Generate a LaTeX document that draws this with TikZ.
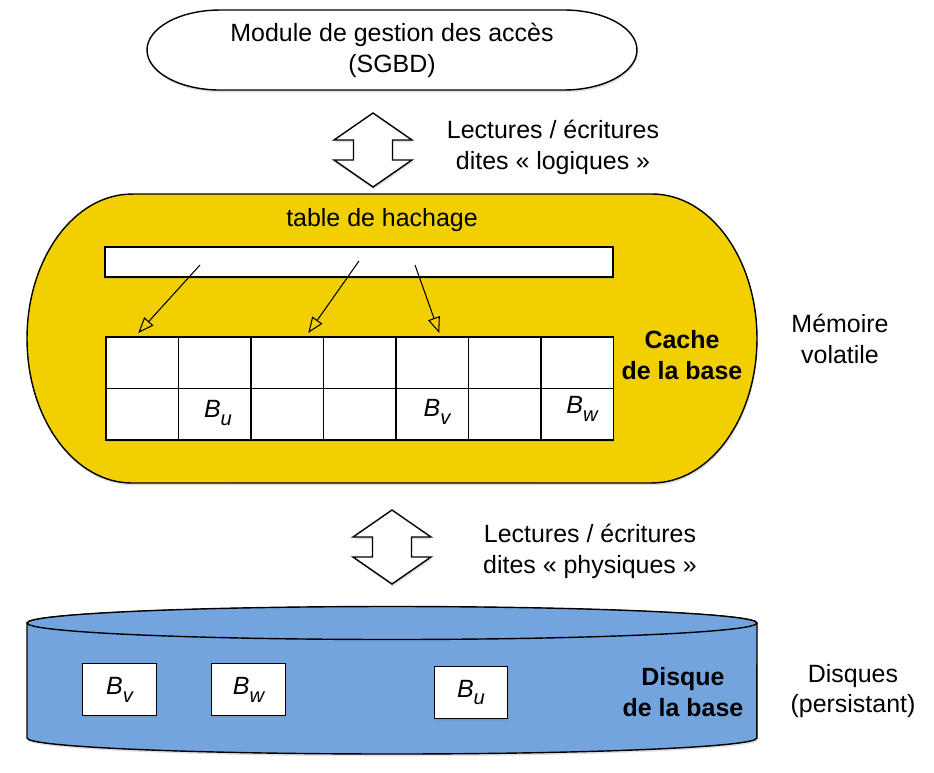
\documentclass[tikz,border=0pt]{standalone}
\usepackage{fontspec}
\setmainfont{Liberation Sans}
\usetikzlibrary{positioning,arrows.meta,calc,shadows}

\definecolor{cacheyellow}{RGB}{242,207,0}
\definecolor{diskblue}{RGB}{115,164,222}

\newcommand{\blk}[1]{\textit{B\raisebox{-0.6ex}{\fontsize{11.5}{12}\selectfont #1}}}
\newcommand{\dblarrow}[1]{%
  \draw[bigarrow] #1 ++(0,-37) -- ++(39,27) -- ++(-19.5,0) -- ++(0,20) -- ++(19.5,0)
    -- ++(-39,27) -- ++(-39,-27) -- ++(19.5,0) -- ++(0,-20) -- ++(-19.5,0) -- cycle;}

\tikzset{
  txt/.style={font=\fontsize{14.2}{17.6}\selectfont, align=center, inner sep=0pt},
  bold/.style={txt, font=\fontsize{14.2}{17.6}\selectfont\bfseries},
  outline/.style={draw=black, line width=0.8pt},
  softshadow/.style={drop shadow={opacity=0.25, shadow xshift=0.5pt, shadow yshift=-1.3pt}},
  cell/.style={draw, line width=0.8pt, fill=white, minimum width=1.45cm, minimum height=1.03cm, inner sep=0pt, outer sep=0pt},
  blockbox/.style={txt, draw, line width=0.8pt, fill=white, minimum width=1.47cm, minimum height=1.04cm, inner sep=0pt, softshadow},
  ptr/.style={-{Triangle[open, length=9pt, width=7pt]}, line width=0.6pt},
  bigarrow/.style={draw, line width=0.8pt, fill=white, line join=miter, softshadow}
}

\begin{document}
\begin{tikzpicture}[x=0.02cm, y=-0.02cm]
  \useasboundingbox (0,0) rectangle (934,772);

  % module d'acces
  \draw[outline, fill=white, softshadow] (220,10) -- (564,10)
    arc[start angle=90, end angle=-90, x radius=1.46cm, y radius=0.8cm] -- (220,90)
    arc[start angle=270, end angle=90, x radius=1.46cm, y radius=0.8cm] -- cycle;
  \node[txt] (module) at (392,50) {Module de gestion des accès\\(SGBD)};

  \dblarrow{(373,150)}
  \node[txt] (logical) at (553,147) {Lectures / écritures\\dites « logiques »};

  % cache
  \draw[outline, fill=cacheyellow, softshadow] (132,194) -- (652,194)
    arc[start angle=90, end angle=-90, x radius=2.1cm, y radius=2.89cm] -- (132,483)
    arc[start angle=270, end angle=90, x radius=2.1cm, y radius=2.89cm] -- cycle;
  \node[txt] (hashlbl) at (382,220) {table de hachage};
  \node[cell, minimum width=10.16cm, minimum height=0.6cm, softshadow] (hash) at (359,262) {};

  \fill[white, softshadow] (106,337) rectangle (613.5,440);
  \foreach \i in {1,...,7} {
    \node[cell] (t\i) at ({106+72.5*(\i-0.5)}, 362.75) {};
    \node[cell] (b\i) at ({106+72.5*(\i-0.5)}, 414.25) {};
  }
  \node[txt] (cu) at (218,413) {\blk{u}};
  \node[txt] (cv) at (437,412) {\blk{v}};
  \node[txt] (cw) at (582,409) {\blk{w}};

  \coordinate (h1) at (200,265);
  \coordinate (h2) at (359,261);
  \coordinate (h3) at (415,265);
  \draw[ptr] (h1) -- ($(t1.north)+(-4,-4)$);
  \draw[ptr] (h2) -- ($(t3.north)+(21,-4)$);
  \draw[ptr] (h3) -- ($(t5.north)+(7,-4)$);

  \node[bold] (cachelbl) at (682,355) {Cache\\de la base};
  \node[txt] (volatile) at (840,339) {Mémoire\\volatile};

  \dblarrow{(392,547)}
  \node[txt] (physical) at (590,551) {Lectures / écritures\\dites « physiques »};

  % disque
  \draw[outline, fill=diskblue, softshadow] (27,623) -- (27,738)
    arc[start angle=180, end angle=360, x radius=7.3cm, y radius=0.32cm] -- (757,623)
    arc[start angle=0, end angle=180, x radius=7.3cm, y radius=0.32cm] -- cycle;
  \draw[outline, fill=diskblue] (392,623) ellipse [x radius=7.3cm, y radius=0.33cm];

  \node[blockbox] (dv) at (119.5,689.5) {\blk{v}};
  \node[blockbox] (dw) at (248.5,689.5) {\blk{w}};
  \node[blockbox] (du) at (471,692.5) {\blk{u}};
  \node[bold] (disklbl) at (683,692) {Disque\\de la base};
  \node[txt] (persist) at (853,691) {Disques\\(persistant)};
\end{tikzpicture}
\end{document}
